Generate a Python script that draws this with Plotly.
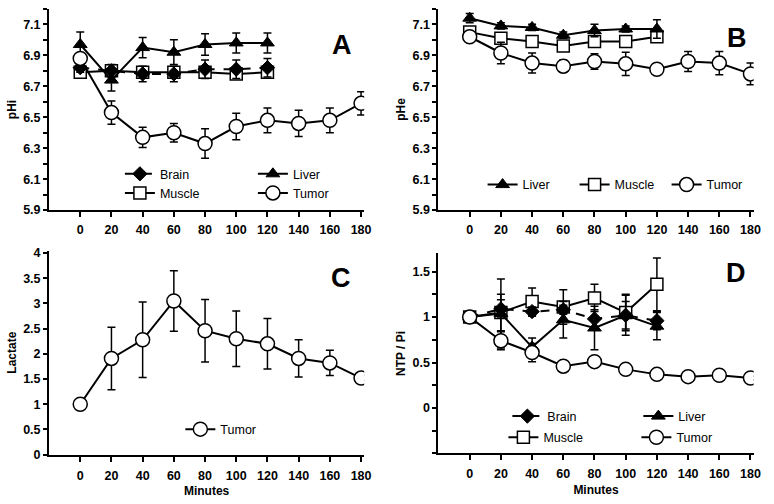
import plotly.graph_objects as go

# ---------------- data ----------------
minutes_short = [0, 20, 40, 60, 80, 100, 120]
minutes_long = [0, 20, 40, 60, 80, 100, 120, 140, 160, 180]
x_ticks = [0, 20, 40, 60, 80, 100, 120, 140, 160, 180]

# Panel A: pHi
brain_phi = [6.82, 6.80, 6.78, 6.78, 6.81, 6.81, 6.82]
brain_phi_err = [0.03, 0.04, 0.05, 0.05, 0.06, 0.06, 0.06]
liver_phi = [6.97, 6.74, 6.95, 6.92, 6.97, 6.98, 6.98]
liver_phi_err = [0.08, 0.07, 0.065, 0.08, 0.07, 0.065, 0.065]
muscle_phi = [6.79, 6.80, 6.79, 6.79, 6.79, 6.78, 6.79]
muscle_phi_err = [0.03, 0.03, 0.03, 0.03, 0.03, 0.03, 0.03]
tumor_phi = [6.88, 6.53, 6.37, 6.40, 6.33, 6.44, 6.48, 6.46, 6.48, 6.59]
tumor_phi_err = [0.02, 0.075, 0.065, 0.06, 0.095, 0.085, 0.08, 0.085, 0.08, 0.075]

# Panel B: pHe
liver_phe = [7.14, 7.09, 7.08, 7.03, 7.06, 7.07, 7.07]
liver_phe_err = [0.03, 0.02, 0.02, 0.02, 0.04, 0.02, 0.06]
muscle_phe = [7.05, 7.01, 6.99, 6.96, 6.99, 6.99, 7.02]
muscle_phe_err = [0.02, 0.03, 0.03, 0.02, 0.02, 0.02, 0.02]
tumor_phe = [7.02, 6.915, 6.85, 6.83, 6.86, 6.845, 6.81, 6.86, 6.85, 6.78]
tumor_phe_err = [0.01, 0.07, 0.065, 0.04, 0.05, 0.075, 0.02, 0.065, 0.075, 0.07]

# Panel C: Lactate
tumor_lac = [1.0, 1.91, 2.28, 3.05, 2.46, 2.30, 2.20, 1.91, 1.82, 1.52]
tumor_lac_err = [0.0, 0.62, 0.75, 0.60, 0.62, 0.55, 0.50, 0.37, 0.25, 0.05]

# Panel D: NTP / Pi
brain_ntp = [1.0, 1.09, 1.06, 1.08, 0.98, 1.02, 0.96]
brain_ntp_err = [0.02, 0.10, 0.05, 0.05, 0.10, 0.15, 0.10]
liver_ntp = [1.0, 1.04, 0.67, 0.97, 0.88, 1.02, 0.90]
liver_ntp_err = [0.02, 0.38, 0.10, 0.20, 0.24, 0.22, 0.15]
muscle_ntp = [1.0, 1.05, 1.17, 1.11, 1.21, 1.05, 1.36]
muscle_ntp_err = [0.02, 0.20, 0.15, 0.19, 0.15, 0.20, 0.29]
tumor_ntp = [1.0, 0.74, 0.61, 0.46, 0.51, 0.425, 0.37, 0.345, 0.36, 0.33]
tumor_ntp_err = [0.02, 0.10, 0.10, 0.03, 0.03, 0.02, 0.02, 0.02, 0.02, 0.02]

# ---------------- styles ----------------
FONT = "Liberation Sans, Arial, sans-serif"
BLACK = "black"

def err(arr):
    return dict(type="data", array=arr, color=BLACK, thickness=1.5, width=4, visible=True)

STY = {
    "Brain": dict(line=dict(color=BLACK, width=2, dash="dash"),
                  marker=dict(symbol="diamond", size=11, color=BLACK, line=dict(color=BLACK, width=1))),
    "Liver": dict(line=dict(color=BLACK, width=2),
                  marker=dict(symbol="triangle-up", size=12, color=BLACK, line=dict(color=BLACK, width=1))),
    "Muscle": dict(line=dict(color=BLACK, width=2),
                   marker=dict(symbol="square", size=12, color="white", line=dict(color=BLACK, width=1.5))),
    "Tumor": dict(line=dict(color=BLACK, width=2),
                  marker=dict(symbol="circle", size=14, color="white", line=dict(color=BLACK, width=1.5))),
}

fig = go.Figure()

def add(name, x, y, e, xa, ya, legend, rank):
    s = STY[name]
    fig.add_trace(go.Scatter(
        x=x, y=y, name=name, mode="lines+markers",
        line=s["line"], marker=s["marker"], error_y=err(e),
        xaxis=xa, yaxis=ya, legend=legend, legendrank=rank, showlegend=True,
    ))

# Panel A
add("Muscle", minutes_short, muscle_phi, muscle_phi_err, "x", "y", "legend2", 3)
add("Brain", minutes_short, brain_phi, brain_phi_err, "x", "y", "legend", 1)
add("Liver", minutes_short, liver_phi, liver_phi_err, "x", "y", "legend", 2)
add("Tumor", minutes_long, tumor_phi, tumor_phi_err, "x", "y", "legend2", 4)
# Panel B
add("Muscle", minutes_short, muscle_phe, muscle_phe_err, "x2", "y2", "legend3", 2)
add("Liver", minutes_short, liver_phe, liver_phe_err, "x2", "y2", "legend3", 1)
add("Tumor", minutes_long, tumor_phe, tumor_phe_err, "x2", "y2", "legend3", 3)
# Panel C
add("Tumor", minutes_long, tumor_lac, tumor_lac_err, "x3", "y3", "legend4", 1)
# Panel D
add("Muscle", minutes_short, muscle_ntp, muscle_ntp_err, "x4", "y4", "legend6", 3)
add("Brain", minutes_short, brain_ntp, brain_ntp_err, "x4", "y4", "legend5", 1)
add("Liver", minutes_short, liver_ntp, liver_ntp_err, "x4", "y4", "legend5", 2)
add("Tumor", minutes_long, tumor_ntp, tumor_ntp_err, "x4", "y4", "legend6", 4)

W, H = 774, 504
def px(x0, x1):
    return [x0 / W, x1 / W]
def py(top, bottom):
    return [1 - bottom / H, 1 - top / H]

tickfont = dict(family=FONT, size=12.5, color=BLACK, weight="bold")
titlefont = dict(family=FONT, size=12, color=BLACK, weight="bold")

def xaxis(dom, anchor, title=None, lab_off=4):
    d = dict(domain=dom, anchor=anchor, range=[-20, 182], tickmode="array", tickvals=x_ticks,
             showline=True, linecolor=BLACK, linewidth=2, ticks="outside", ticklen=5,
             tickwidth=1.5, tickcolor=BLACK, showgrid=False, zeroline=False, tickfont=tickfont,
             ticklabelstandoff=lab_off)
    if title:
        d["title"] = dict(text=title, font=titlefont, standoff=5)
    return d

def yaxis(dom, anchor, title, **kw):
    d = dict(domain=dom, anchor=anchor, showline=True, linecolor=BLACK, linewidth=2,
             ticks="outside", ticklen=4, tickwidth=1.5, tickcolor=BLACK, showgrid=False,
             zeroline=False, tickfont=tickfont,
             title=dict(text=title, font=titlefont, standoff=4))
    d.update(kw)
    return d

xa_dom_l = px(49.5, 367.5)
xa_dom_r = px(442.5, 760.5)
ya_dom_t = py(5, 210.7)
yc_dom = py(252.1, 460.7)
yd_dom = py(255, 459.5)

fig.update_layout(
    width=W, height=H,
    margin=dict(l=0, r=0, t=0, b=0),
    paper_bgcolor="white", plot_bgcolor="white",
    font=dict(family=FONT, color=BLACK),
    xaxis=xaxis(xa_dom_l, "y", lab_off=2),
    yaxis=yaxis(ya_dom_t, "x", "pHi", range=[5.9, 7.2], tickmode="linear", tick0=5.9, dtick=0.2,
                tickformat=".1f",
                minor=dict(tick0=5.9, dtick=0.1, ticks="outside", ticklen=4, tickwidth=1.5, tickcolor=BLACK)),
    xaxis2=xaxis(xa_dom_r, "y2", lab_off=2),
    yaxis2=yaxis(ya_dom_t, "x2", "pHe", range=[5.9, 7.2], tickmode="linear", tick0=5.9, dtick=0.2,
                 tickformat=".1f",
                 minor=dict(tick0=5.9, dtick=0.1, ticks="outside", ticklen=4, tickwidth=1.5, tickcolor=BLACK)),
    xaxis3=xaxis(xa_dom_l, "y3", "Minutes", lab_off=3),
    yaxis3=yaxis(yc_dom, "x3", "Lactate", range=[0, 4.05], tickmode="linear", tick0=0, dtick=0.5),
    xaxis4=xaxis(xa_dom_r, "y4", "Minutes", lab_off=3),
    yaxis4=yaxis(yd_dom, "x4", "NTP / Pi", range=[-0.5, 1.7], tickmode="array",
                 tickvals=[0, 0.5, 1, 1.5], ticktext=["0", "0.5", "1", "1.5"],
                 minor=dict(tickmode="array", tickvals=[-0.5, -0.25, 0.25, 0.75, 1.25],
                            ticks="outside", ticklen=4, tickwidth=1.5, tickcolor=BLACK)),
)

legfont = dict(family=FONT, size=12.5, color=BLACK)
def leg(x, y, ew=0):
    d = dict(x=x, y=y, xanchor="left", yanchor="middle", orientation="h",
             bgcolor="rgba(0,0,0,0)", borderwidth=0, font=legfont, itemsizing="trace",
             tracegroupgap=0, traceorder="normal")
    if ew:
        d["entrywidth"] = ew
        d["entrywidthmode"] = "pixels"
    return d

fig.update_layout(
    legend=leg(121 / W, 1 - 174 / H, 88),
    legend2=leg(121 / W, 1 - 193.5 / H, 88),
    legend3=leg(487 / W, 1 - 185 / H, 47),
    legend4=leg(182 / W, 1 - 435 / H),
    legend5=leg(512 / W, 1 - 421.7 / H, 86),
    legend6=leg(508 / W, 1 - 443.3 / H, 88),
)

letters = [("A", 345, 42), ("B", 744, 35), ("C", 344, 280), ("D", 743, 275)]
for t, lx, ly in letters:
    fig.add_annotation(text=t, x=lx / W, y=1 - ly / H, xref="paper", yref="paper",
                       showarrow=False, xanchor="center", yanchor="middle",
                       font=dict(family=FONT, size=27, color=BLACK, weight="bold"))

fig.write_html("out.html", config={"displayModeBar": False},
               post_script="document.body.style.margin='0';document.body.style.overflow='hidden';")
